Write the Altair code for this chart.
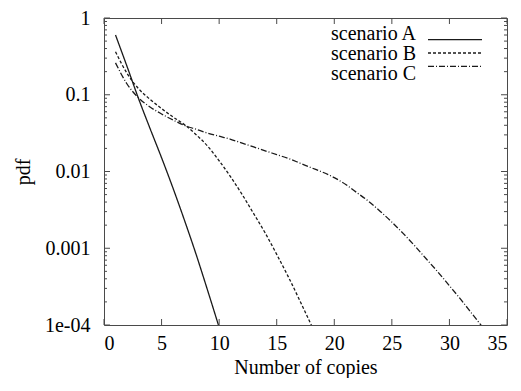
import altair as alt
import pandas as pd

# ---- data ----
series_names = ["scenario A", "scenario B", "scenario C"]

x_a = [1, 2, 3, 4, 5, 6, 7, 8, 9, 10]
pdf_a = [0.60, 0.234, 0.0891, 0.0363, 0.0151, 0.00603, 0.00229, 0.000832, 0.000282, 0.0000933]

x_b = [1, 2, 3, 4, 5, 6, 7, 8, 9, 10, 11, 12, 13, 14, 15, 16, 17, 18, 19]
pdf_b = [0.363, 0.19, 0.120, 0.0871, 0.0661, 0.0513, 0.0407, 0.0302, 0.0214, 0.0138,
         0.00851, 0.00501, 0.00282, 0.00158, 0.000832, 0.000427, 0.000209, 0.0001, 0.0000468]

x_c = [1, 2, 3, 4, 5, 6, 7, 8, 9, 10, 11, 12, 13, 14, 15, 16, 17, 18, 19, 20, 21, 22,
       23, 24, 25, 26, 27, 28, 29, 30, 31, 32, 33]
pdf_c = [0.260, 0.138, 0.0912, 0.0692, 0.0562, 0.0468, 0.0398, 0.0355, 0.0316, 0.0288,
         0.0263, 0.0234, 0.0209, 0.0186, 0.0166, 0.0148, 0.0129, 0.0112, 0.00977, 0.00832,
         0.00676, 0.00525, 0.00407, 0.00302, 0.00219, 0.00155, 0.00107, 0.000724, 0.000490,
         0.000324, 0.000214, 0.000138, 0.0000891]

x_ticks = [0, 5, 10, 15, 20, 25, 30, 35]
y_ticks = [0.0001, 0.001, 0.01, 0.1, 1]
y_minor = [m * d for d in [0.0001, 0.001, 0.01, 0.1] for m in [2, 3, 4, 5, 6, 7, 8, 9]]

# ---- tables ----
rows = []
for name, xs, ys in zip(series_names, [x_a, x_b, x_c], [pdf_a, pdf_b, pdf_c]):
    for xv, yv in zip(xs, ys):
        rows.append({"scenario": name, "copies": xv, "pdf": yv})
df = pd.DataFrame(rows)
legend_df = pd.DataFrame({"scenario": series_names})
xt_df = pd.DataFrame({"t": x_ticks})
yt_df = pd.DataFrame({"v": y_ticks})
ym_df = pd.DataFrame({"v": y_minor})

W, H = 403, 307
FONT = "Liberation Serif, DejaVu Serif, Times New Roman, serif"
INK = "#4a4a4a"

xscale = alt.Scale(domain=[0, 35], nice=False, zero=False)
yscale = alt.Scale(type="log", domain=[0.0001, 1], nice=False)
dash_scale = alt.Scale(domain=series_names, range=[[1, 0], [3, 2], [6, 2, 1, 2]])

lines = alt.Chart(df).mark_line(clip=True, color="#1a1a1a", strokeWidth=1.3,
                                interpolate="monotone").encode(
    x=alt.X("copies:Q", scale=xscale,
            axis=alt.Axis(values=x_ticks, tickSize=0, domain=False, grid=False,
                          labelPadding=8, labelFontSize=20, labelFont=FONT,
                          title="Number of copies", titleFont=FONT, titleFontSize=20,
                          titleFontWeight="normal", titleBaseline="alphabetic",
                          titleY=48, titleX=W / 2)),
    y=alt.Y("pdf:Q", scale=yscale,
            axis=alt.Axis(values=y_ticks, tickSize=0, domain=False, grid=False,
                          labelPadding=14, labelFontSize=20, labelFont=FONT,
                          labelExpr="datum.value < 0.0005 ? '1e-04' : datum.label",
                          format="~g",
                          title="pdf", titleFont=FONT, titleFontSize=20,
                          titleFontWeight="normal", titleAngle=-90,
                          titleBaseline="middle", titleAlign="center",
                          titleX=-81, titleY=H / 2)),
    strokeDash=alt.StrokeDash("scenario:N", scale=dash_scale, legend=None),
    detail="scenario:N",
)

# inward tick marks on all four sides (gnuplot style)
xt_bottom = alt.Chart(xt_df).mark_rule(color=INK, strokeWidth=1).encode(
    x=alt.X("t:Q", scale=xscale), y=alt.value(H), y2=alt.value(H - 6))
xt_top = alt.Chart(xt_df).mark_rule(color=INK, strokeWidth=1).encode(
    x=alt.X("t:Q", scale=xscale), y=alt.value(0), y2=alt.value(6))
yt_left = alt.Chart(yt_df).mark_rule(color=INK, strokeWidth=1).encode(
    y=alt.Y("v:Q", scale=yscale, axis=None), x=alt.value(0), x2=alt.value(6))
yt_right = alt.Chart(yt_df).mark_rule(color=INK, strokeWidth=1).encode(
    y=alt.Y("v:Q", scale=yscale, axis=None), x=alt.value(W), x2=alt.value(W - 6))
ym_left = alt.Chart(ym_df).mark_rule(color=INK, strokeWidth=1).encode(
    y=alt.Y("v:Q", scale=yscale, axis=None), x=alt.value(0), x2=alt.value(3))
ym_right = alt.Chart(ym_df).mark_rule(color=INK, strokeWidth=1).encode(
    y=alt.Y("v:Q", scale=yscale, axis=None), x=alt.value(W), x2=alt.value(W - 3))

# key in the top-right corner: label then line sample
key_y = alt.Y("scenario:N", scale=alt.Scale(domain=series_names, range=[15, 55], padding=0),
              axis=None)
key_lines = alt.Chart(legend_df).mark_rule(color="#1a1a1a", strokeWidth=1.3).encode(
    y=key_y, x=alt.value(324), x2=alt.value(378),
    strokeDash=alt.StrokeDash("scenario:N", scale=dash_scale, legend=None))
key_text = alt.Chart(legend_df).mark_text(align="right", baseline="alphabetic", dy=7,
                                          font=FONT, fontSize=20, color="black").encode(
    y=key_y, x=alt.value(312), text="scenario:N")

chart = alt.layer(
    lines, xt_bottom, xt_top, yt_left, yt_right, ym_left, ym_right, key_lines, key_text
).resolve_scale(y="independent").properties(
    width=W, height=H,
    autosize=alt.AutoSizeParams(type="none"),
    padding={"left": 96, "top": 10, "right": 6, "bottom": 53},
).configure_view(stroke=INK, strokeWidth=1).configure_axis(
    labelColor="black", titleColor="black")

chart.save("out.html", embed_options={"renderer": "svg", "actions": False})
